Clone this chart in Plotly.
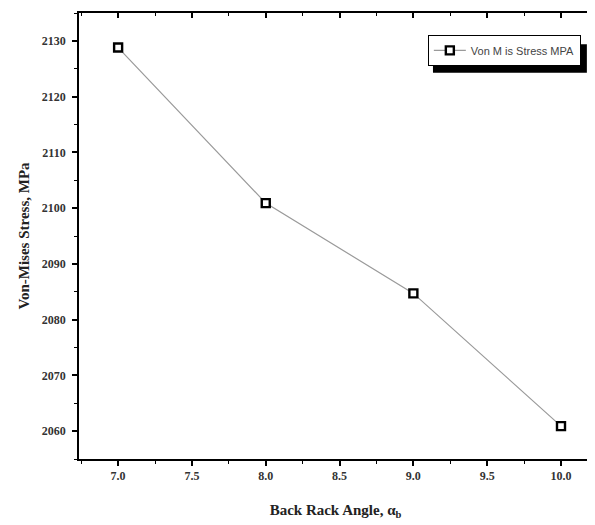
import plotly.graph_objects as go

angles = [7.0, 8.0, 9.0, 10.0]
stress = [2128.8, 2100.9, 2084.7, 2060.9]
series_name = "Von M is Stress MPA"
x_title = "Back Rack Angle, α<sub>b</sub>"
y_title = "Von-Mises Stress, MPa"

XR = [6.735, 10.21]
YR = [2055, 2135]

fig = go.Figure()
fig.add_trace(go.Scatter(
    x=angles, y=stress, mode="lines+markers", name=series_name,
    line=dict(color="#9a9a9a", width=1.2),
    marker=dict(symbol="square", size=8, color="white",
                line=dict(color="black", width=2.4)),
))
# invisible trace to host mirrored (inward) ticks on top/right
fig.add_trace(go.Scatter(x=XR, y=YR, xaxis="x2", yaxis="y2", mode="markers",
                         marker=dict(size=1, opacity=0),
                         showlegend=False, hoverinfo="skip"))

tickfont = dict(family="Liberation Serif", size=12, color="#333", weight="bold")
fig.update_layout(
    width=587, height=517,
    margin=dict(l=71, r=3, t=5, b=66, autoexpand=False),
    paper_bgcolor="white", plot_bgcolor="white",
    showlegend=True,
    legend=dict(x=0.68, y=0.951, xanchor="left", yanchor="top",
                bgcolor="white", bordercolor="black", borderwidth=1,
                font=dict(family="Liberation Sans", size=11, color="#444"),
                itemwidth=32),
    xaxis=dict(range=XR, dtick=0.5, tick0=7.0, tickformat=".1f",
               automargin=False,
               ticks="outside", ticklen=5, tickwidth=1.5, tickcolor="black",
               minor=dict(dtick=0.25, tick0=7.0, ticks="outside", ticklen=3,
                          tickwidth=1.2, tickcolor="black"),
               showline=True, linecolor="black", linewidth=1.8,
               showgrid=False, zeroline=False, tickfont=tickfont,
               title=dict(text=x_title, standoff=22,
                          font=dict(family="Liberation Serif", size=15,
                                    color="#222", weight="bold"))),
    yaxis=dict(range=YR, dtick=10, tick0=2060, automargin=False,
               ticklabelstandoff=4,
               ticks="outside", ticklen=5, tickwidth=1.5, tickcolor="black",
               minor=dict(dtick=5, tick0=2060, ticks="outside", ticklen=3,
                          tickwidth=1.2, tickcolor="black"),
               showline=True, linecolor="black", linewidth=1.8,
               showgrid=False, zeroline=False, tickfont=tickfont,
               title=dict(text=y_title, standoff=8,
                          font=dict(family="Liberation Serif", size=15,
                                    color="#222", weight="bold"))),
    xaxis2=dict(range=XR, overlaying="x", side="top", dtick=0.5, tick0=7.0,
                automargin=False,
                ticks="inside", ticklen=5, tickwidth=1.5, tickcolor="black",
                minor=dict(dtick=0.25, tick0=7.0, ticks="inside", ticklen=3,
                           tickwidth=1.2, tickcolor="black"),
                showticklabels=False, showline=True, linecolor="black",
                linewidth=1.8, showgrid=False, zeroline=False),
    yaxis2=dict(range=YR, overlaying="y", side="right", dtick=10, tick0=2060,
                automargin=False,
                ticks="inside", ticklen=5, tickwidth=1.2, tickcolor="#555",
                minor=dict(dtick=5, tick0=2060, ticks="inside", ticklen=3,
                           tickwidth=1, tickcolor="#555"),
                showticklabels=False, showline=True, linecolor="#777",
                linewidth=1, showgrid=False, zeroline=False),
)

# legend drop shadow
fig.add_shape(type="rect", xref="paper", yref="paper",
              x0=0.690, x1=0.990, y0=0.866, y1=0.930,
              fillcolor="black", line=dict(width=0), layer="above")

fig.write_html("out.html")
